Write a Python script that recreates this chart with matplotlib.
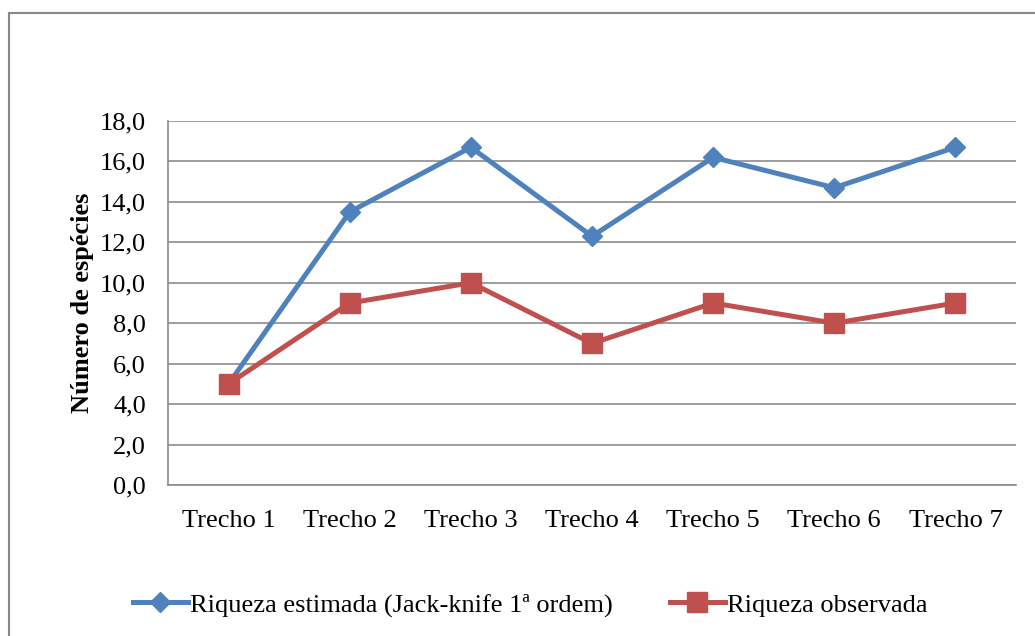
import matplotlib

matplotlib.use("Agg")
import matplotlib.pyplot as plt
from matplotlib.lines import Line2D
from matplotlib.ticker import FuncFormatter

plt.rcParams["font.family"] = ["Liberation Serif", "DejaVu Serif"]

categories = ["Trecho 1", "Trecho 2", "Trecho 3", "Trecho 4",
              "Trecho 5", "Trecho 6", "Trecho 7"]
estimada = [5.0, 13.5, 16.7, 12.3, 16.2, 14.7, 16.7]
observada = [5, 9, 10, 7, 9, 8, 9]
y_ticks = [0, 2, 4, 6, 8, 10, 12, 14, 16, 18]

BLUE = "#4F81BD"
RED = "#C0504D"
GRID = "#8C8C8C"
FS = 19

fig = plt.figure(figsize=(10.35, 6.36), dpi=100)
ax = fig.add_axes([168 / 1035, 1 - 485 / 636, 848 / 1035, 364 / 636])

x = list(range(len(categories)))
ax.plot(x, estimada, color=BLUE, linewidth=3.6, marker="D", markersize=10,
        label="Riqueza estimada (Jack-knife 1ª ordem)")
ax.plot(x, observada, color=RED, linewidth=3.6, marker="s", markersize=14,
        label="Riqueza observada")

ax.set_xlim(-0.5, len(categories) - 0.5)
ax.set_ylim(0, 18)
ax.set_xticks(x)
ax.set_xticklabels(categories)
ax.set_yticks(y_ticks)
ax.yaxis.set_major_formatter(FuncFormatter(lambda v, _: f"{v:.1f}".replace(".", ",")))
ax.tick_params(axis="both", length=0, labelsize=FS)
ax.tick_params(axis="y", pad=16)
ax.tick_params(axis="x", pad=18)
ax.grid(axis="y", color=GRID, linewidth=1.2)
ax.set_axisbelow(True)
for side in ("top", "right"):
    ax.spines[side].set_visible(False)
for side in ("left", "bottom"):
    ax.spines[side].set_color(GRID)
    ax.spines[side].set_linewidth(1.2)

ax.set_ylabel("Número de espécies", fontsize=FS, fontweight="bold", labelpad=4)

fig.legend(loc="center", bbox_to_anchor=(530 / 1035, 1 - 605 / 636), ncol=2,
           frameon=False, fontsize=FS, handlelength=2.08, handletextpad=0.08,
           columnspacing=2.16)

# chart outer border (left and top edges visible)
fig.add_artist(Line2D([9 / 1035, 9 / 1035], [0, 1 - 13 / 636],
                      transform=fig.transFigure, color="#868686", linewidth=1.5))
fig.add_artist(Line2D([9 / 1035, 1], [1 - 13 / 636, 1 - 13 / 636],
                      transform=fig.transFigure, color="#868686", linewidth=1.5))

fig.savefig("out.png", dpi=100)
